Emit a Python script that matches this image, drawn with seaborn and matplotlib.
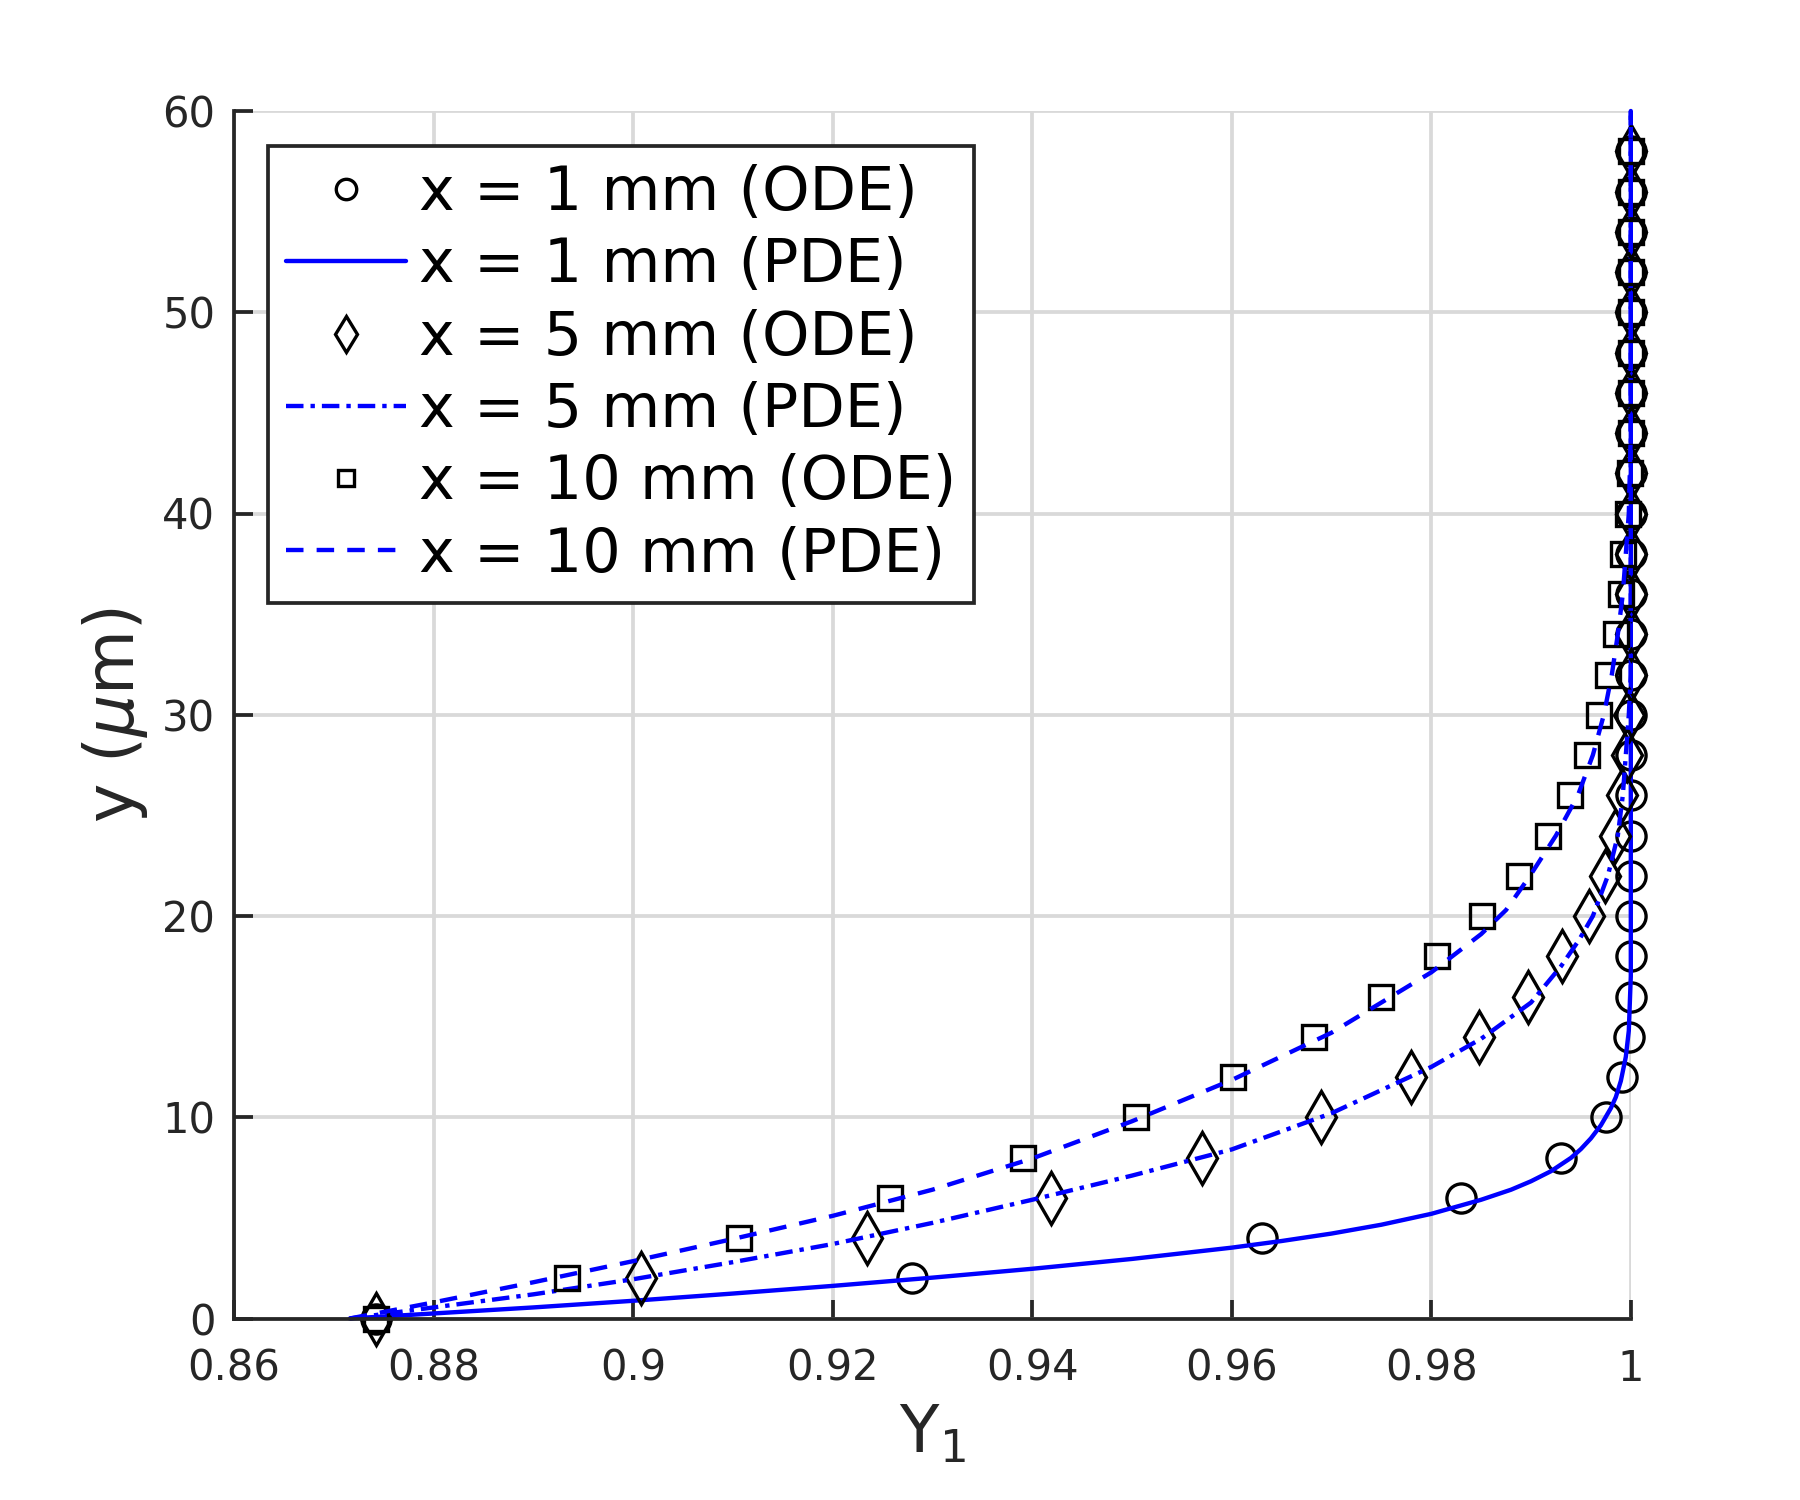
import numpy as np
import matplotlib
matplotlib.use('Agg')
import matplotlib.pyplot as plt
import seaborn as sns

# ODE points, y = 0, 2, ..., 58 um
y_ode = list(range(0, 60, 2))
x1_ode = [0.8742, 0.928, 0.963, 0.983, 0.993, 0.9975, 0.9991, 0.9998] + [1.0] * 22
x5_ode = [0.8742, 0.9008, 0.9234, 0.9419, 0.957, 0.9689, 0.978, 0.9848,
          0.9897, 0.9931, 0.9958, 0.9974, 0.9984, 0.9991, 0.9996, 0.9998] + [1.0] * 14
x10_ode = [0.8742, 0.8934, 0.9106, 0.9258, 0.9391, 0.9504, 0.9601, 0.9682,
           0.975, 0.9806, 0.9851, 0.9888, 0.9917, 0.9939, 0.9956, 0.9968,
           0.9977, 0.9985, 0.999, 0.9992, 0.9997, 0.9999] + [1.0] * 8

# PDE curves
y1_pde = [0, 0.25, 0.55, 0.88, 1.24, 1.62, 2.03, 2.47, 2.96, 3.52, 3.85, 4.22,
          4.66, 5.2, 5.9, 6.4, 6.82, 7.32, 7.98, 8.42, 8.95, 9.6, 10.45, 11.0,
          11.8, 13.0, 14.3, 17, 60]
x1_pde = [0.8716, 0.88, 0.89, 0.90, 0.91, 0.92, 0.93, 0.94, 0.95, 0.96, 0.965,
          0.97, 0.975, 0.98, 0.985, 0.988, 0.99, 0.992, 0.994, 0.995, 0.996,
          0.997, 0.998, 0.9985, 0.999, 0.9995, 0.9998, 1.0, 1.0]

y5_pde = [0, 0.55, 1.2, 1.95, 2.8, 3.7, 4.75, 5.9, 7.1, 8.4, 10.2, 12.5, 13.9,
          15.7, 17.5, 18.8, 20, 22, 24, 26, 28, 30, 32, 60]
x5_pde = [0.8716, 0.88, 0.89, 0.90, 0.91, 0.92, 0.93, 0.94, 0.95, 0.96, 0.97,
          0.98, 0.985, 0.99, 0.993, 0.9948, 0.9962, 0.9977, 0.9987, 0.9992,
          0.9995, 0.9998, 1.0, 1.0]

y10_pde = [0, 0.8, 1.8, 2.85, 3.95, 5.1, 6.4, 7.95, 9.8, 11.85, 14.2, 17.2,
           19.1, 20.3, 22, 24, 26, 28, 30, 32, 34, 36, 38, 40, 44, 60]
x10_pde = [0.8716, 0.88, 0.89, 0.90, 0.91, 0.92, 0.93, 0.94, 0.95, 0.96, 0.97,
           0.98, 0.985, 0.9875, 0.9899, 0.9925, 0.9947, 0.9962, 0.9973, 0.9981,
           0.9987, 0.9992, 0.9995, 0.9998, 1.0, 1.0]

sns.set_theme(style='ticks')
plt.rcParams['font.family'] = ['DejaVu Sans']
plt.rcParams['mathtext.fontset'] = 'dejavusans'

dark = '#262626'
blue = '#0000ff'

fig = plt.figure(figsize=(12, 10), dpi=150)
ax = fig.add_axes([0.130, 0.121, 0.776, 0.805])

ode_kw = dict(color='black', linestyle='none', markerfacecolor='none',
              markeredgecolor='black', markeredgewidth=1.6,
              estimator=None, sort=False, clip_on=False)
pde_kw = dict(color=blue, linewidth=2.1, estimator=None, sort=False, clip_on=False)

sns.lineplot(x=x1_ode, y=y_ode, marker='o', markersize=14, label='x = 1 mm (ODE)', ax=ax, **ode_kw)
sns.lineplot(x=x1_pde, y=y1_pde, linestyle='-', label='x = 1 mm (PDE)', ax=ax, **pde_kw)
sns.lineplot(x=x5_ode, y=y_ode, marker='d', markersize=17.5, label='x = 5 mm (ODE)', ax=ax, **ode_kw)
sns.lineplot(x=x5_pde, y=y5_pde, linestyle=(0, (4.0, 1.6, 1.0, 1.6)), label='x = 5 mm (PDE)', ax=ax, **pde_kw)
sns.lineplot(x=x10_ode, y=y_ode, marker='s', markersize=11.5, label='x = 10 mm (ODE)', ax=ax, **ode_kw)
sns.lineplot(x=x10_pde, y=y10_pde, linestyle=(0, (4.0, 3.0)), label='x = 10 mm (PDE)', ax=ax, **pde_kw)

ax.set_xlim(0.86, 1.0)
ax.set_ylim(0, 60)
ax.set_xticks(np.arange(0.86, 1.0001, 0.02))
ax.set_xticklabels(['0.86', '0.88', '0.9', '0.92', '0.94', '0.96', '0.98', '1'])
ax.set_yticks(range(0, 61, 10))

ax.grid(True, color='#d9d9d9', linewidth=1.8)
ax.set_axisbelow(True)
for side in ['top', 'right']:
    ax.spines[side].set_visible(False)
for side in ['left', 'bottom']:
    ax.spines[side].set_color(dark)
    ax.spines[side].set_linewidth(1.8)
ax.tick_params(axis='both', direction='in', length=9, width=1.8, color=dark,
               labelcolor=dark, labelsize=20)
ax.tick_params(axis='x', pad=14)
ax.tick_params(axis='y', pad=9)

ax.set_xlabel(r'Y$_1$', fontsize=31, color=dark, labelpad=6)
ax.set_ylabel(r'y ($\mu$m)', fontsize=32, color=dark, labelpad=6)

leg = ax.legend(loc='upper left', bbox_to_anchor=(0.024, 0.971), borderaxespad=0,
                fontsize=29, markerscale=0.7, handlelength=2.0, handletextpad=0.2,
                labelspacing=0.22, borderpad=0.3, fancybox=False, framealpha=1)
leg.get_frame().set_edgecolor(dark)
leg.get_frame().set_linewidth(1.8)
for t in leg.get_texts():
    t.set_color('black')

fig.savefig('out.png', dpi=150)
